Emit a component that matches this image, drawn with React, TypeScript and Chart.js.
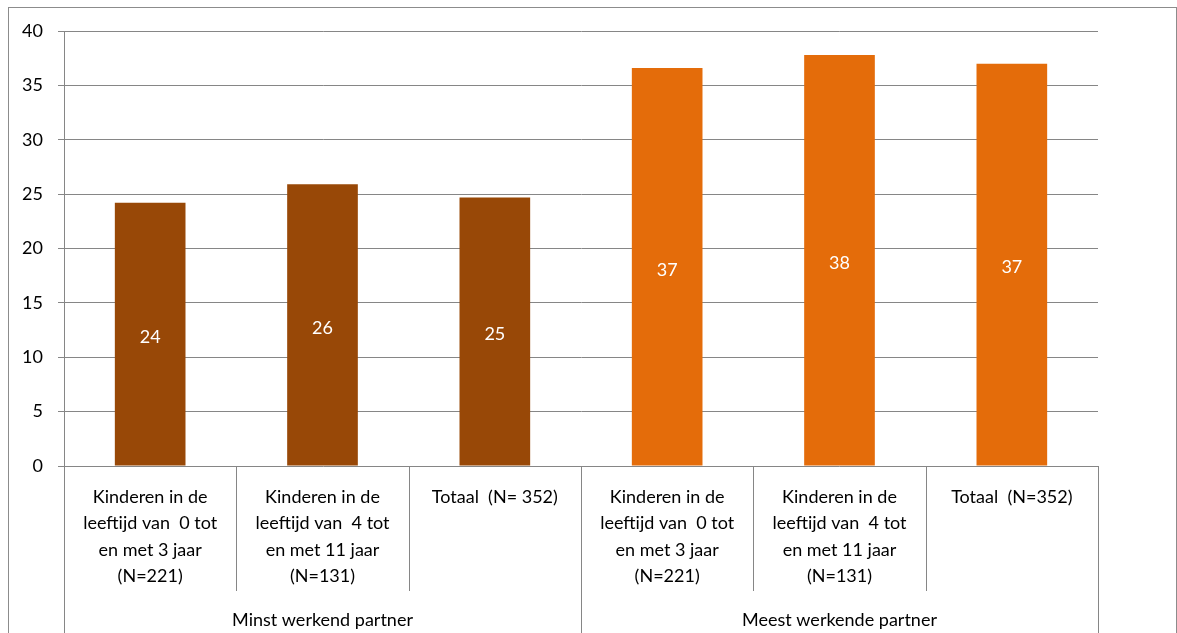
import React, { useEffect, useRef } from "react";
import { Chart, registerables } from "chart.js";

Chart.register(...registerables);

const categoryLines: string[][] = [
  ["Kinderen in de", "leeftijd van  0 tot", "en met 3 jaar", "(N=221)"],
  ["Kinderen in de", "leeftijd van  4 tot", "en met 11 jaar", "(N=131)"],
  ["Totaal  (N= 352)"],
  ["Kinderen in de", "leeftijd van  0 tot", "en met 3 jaar", "(N=221)"],
  ["Kinderen in de", "leeftijd van  4 tot", "en met 11 jaar", "(N=131)"],
  ["Totaal  (N=352)"],
];
const groups = ["Minst werkend partner", "Meest werkende partner"];
const groupSizes = [3, 3];
const values = [24.2, 25.9, 24.7, 36.6, 37.8, 37.0];
const barColors = ["#984807", "#984807", "#984807", "#E46C0A", "#E46C0A", "#E46C0A"];
const yTicks = [0, 5, 10, 15, 20, 25, 30, 35, 40];

const FONT = "Lato, 'Open Sans', sans-serif";
const FONT_SIZE = 18;
const LINE_COLOR = "#868686";

const axisPlugin = {
  id: "multiAxis",
  afterDraw(chart: any) {
    const ctx = chart.ctx;
    const x = chart.scales.x;
    const area = chart.chartArea;
    const n = values.length;
    ctx.save();
    // outer frame
    ctx.strokeStyle = "#8c8c8c";
    ctx.lineWidth = 1;
    ctx.strokeRect(8.5, 7.5, chart.width - 9, chart.height + 10);

    const bounds: number[] = [area.left];
    for (let i = 0; i < n - 1; i++) {
      bounds.push((x.getPixelForValue(i) + x.getPixelForValue(i + 1)) / 2);
    }
    bounds.push(area.right);
    const groupEdges = new Set<number>([0]);
    let acc = 0;
    for (const s of groupSizes) {
      acc += s;
      groupEdges.add(acc);
    }
    ctx.strokeStyle = LINE_COLOR;
    bounds.forEach((bx, i) => {
      const px = Math.round(bx) + 0.5;
      ctx.beginPath();
      ctx.moveTo(px, area.bottom);
      ctx.lineTo(px, groupEdges.has(i) ? chart.height : area.bottom + 125);
      ctx.stroke();
    });
    ctx.fillStyle = "#000";
    ctx.font = `${FONT_SIZE}px ${FONT}`;
    ctx.textAlign = "center";
    ctx.textBaseline = "middle";
    categoryLines.forEach((lines, i) => {
      const cx = x.getPixelForValue(i);
      lines.forEach((ln, j) => {
        ctx.fillText(ln, cx, area.bottom + 31 + j * 26.5);
      });
    });
    let start = 0;
    groups.forEach((g, gi) => {
      const end = start + groupSizes[gi];
      const cx = (bounds[start] + bounds[end]) / 2;
      ctx.fillText(g, cx, area.bottom + 154);
      start = end;
    });
    // data labels
    ctx.fillStyle = "#fff";
    const meta = chart.getDatasetMeta(0);
    meta.data.forEach((bar: any, i: number) => {
      const my = (bar.y + bar.base) / 2 + 3;
      ctx.fillText(String(Math.round(values[i])), bar.x, my);
    });
    ctx.restore();
  },
};

export default function App() {
  const ref = useRef<HTMLCanvasElement | null>(null);
  useEffect(() => {
    if (!ref.current) return;
    const chart = new Chart(ref.current, {
      type: "bar",
      data: {
        labels: categoryLines.map((l) => l.join(" ")),
        datasets: [
          {
            data: values,
            backgroundColor: barColors,
            borderWidth: 0,
            categoryPercentage: 1,
            barPercentage: 0.41,
          },
        ],
      },
      options: {
        animation: false,
        responsive: false,
        maintainAspectRatio: false,
        layout: { padding: { top: 31, right: 79, bottom: 167, left: 9 } },
        plugins: { legend: { display: false }, tooltip: { enabled: false } },
        scales: {
          x: { display: false },
          y: {
            min: 0,
            max: 40,
            afterBuildTicks: (scale: any) => {
              scale.ticks = yTicks.map((v) => ({ value: v }));
            },
            afterFit: (scale: any) => {
              scale.width = 55;
            },
            border: { display: true, color: LINE_COLOR, width: 1 },
            grid: { color: LINE_COLOR, lineWidth: 1, tickLength: 6, drawTicks: true },
            ticks: {
              color: "#000",
              padding: 15,
              font: { family: FONT, size: FONT_SIZE },
            },
          },
        },
      },
      plugins: [axisPlugin],
    });
    return () => chart.destroy();
  }, []);
  return (
    <div style={{ position: "absolute", left: 0, top: 0, width: 1177, height: 633, overflow: "hidden" }}>
      <canvas ref={ref} width={1177} height={633} style={{ display: "block" }} />
    </div>
  );
}
